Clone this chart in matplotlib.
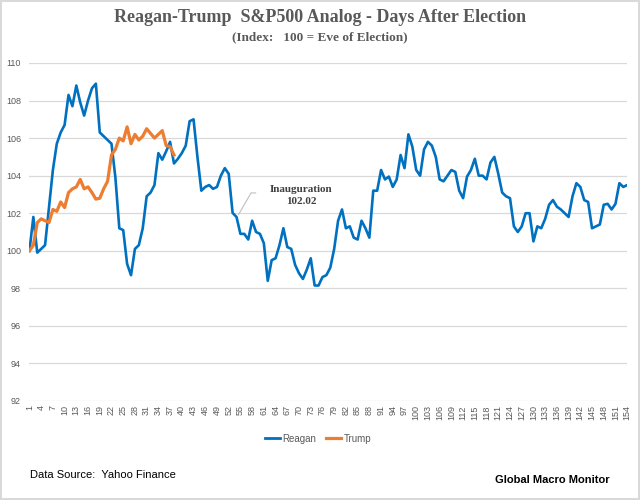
import matplotlib.pyplot as plt
from matplotlib.lines import Line2D

# S&P500 index, 100 = eve of election, by trading day after election
reagan = [
    100.0, 101.8, 99.9, 100.1, 100.3, 102.3, 104.3, 105.7, 106.3, 106.7,
    108.3, 107.7, 108.8, 107.9, 107.2, 108.0, 108.65, 108.9, 106.3, 106.1,
    105.9, 105.7, 103.9, 101.2, 101.1, 99.3, 98.7, 100.1, 100.3, 101.2,
    102.9, 103.1, 103.5, 105.2, 104.85, 105.3, 105.8, 104.65, 104.9, 105.2,
    105.6, 106.9, 107.0, 105.0, 103.2, 103.4, 103.5, 103.3, 103.4, 104.0,
    104.4, 104.1, 102.02, 101.8, 100.9, 100.9, 100.6, 101.6, 101.0, 100.9,
    100.4, 98.4, 99.5, 99.6, 100.3, 101.2, 100.2, 100.1, 99.25, 98.8,
    98.5, 99.0, 99.6, 98.15, 98.15, 98.6, 98.7, 99.1, 100.1, 101.6,
    102.2, 101.2, 101.3, 100.7, 100.6, 101.6, 101.2, 100.7, 103.2, 103.2,
    104.3, 103.8, 103.95, 103.4, 103.8, 105.1, 104.4, 106.2, 105.55, 104.3,
    104.0, 105.4, 105.8, 105.6, 105.0, 103.8, 103.7, 104.0, 104.3, 104.2,
    103.2, 102.8, 103.95, 104.3, 104.9, 104.0, 104.0, 103.8, 104.7, 105.0,
    104.1, 103.1, 102.9, 102.8, 101.3, 101.0, 101.3, 102.0, 102.0, 100.5,
    101.3, 101.2, 101.7, 102.45, 102.7, 102.35, 102.2, 102.0, 101.8, 102.9,
    103.6, 103.4, 102.7, 102.6, 101.2, 101.3, 101.4, 102.45, 102.5, 102.2,
    102.5, 103.6, 103.4, 103.5,
]
trump = [
    100.0, 100.3, 101.5, 101.7, 101.6, 101.5, 102.2, 102.1, 102.6, 102.3,
    103.1, 103.3, 103.4, 103.8, 103.3, 103.4, 103.1, 102.75, 102.8, 103.3,
    103.7, 105.1, 105.4, 106.0, 105.85, 106.6, 105.7, 106.2, 105.9, 106.1,
    106.5, 106.25, 106.0, 106.2, 106.4, 105.6, 105.55, 105.1,
]
days_reagan = list(range(1, len(reagan) + 1))
days_trump = list(range(1, len(trump) + 1))
inaug_day = 53
inaug_value = 102.02

grey = '#595959'
blue = '#0070C0'
orange = '#ED7D31'

fig = plt.figure(figsize=(6.4, 5), dpi=100)
fig.patch.set_edgecolor('#D9D9D9')
fig.patch.set_linewidth(1.5)

ax = fig.add_axes([0.046, 0.198, 0.934, 0.676])
ax.plot(days_reagan, reagan, color=blue, lw=1.9, label='Reagan')
ax.plot(days_trump, trump, color=orange, lw=2.3, label='Trump')

ax.set_xlim(1, len(reagan))
ax.set_ylim(92, 110)
ax.set_yticks(range(92, 111, 2))
ax.set_xticks(range(1, len(reagan) + 1, 3))
ax.set_xticklabels([str(d) for d in range(1, len(reagan) + 1, 3)], rotation=90)
ax.tick_params(axis='both', length=0, labelsize=6.5, labelcolor=grey,
               labelfontfamily='Liberation Sans')
ax.tick_params(axis='y', pad=6)
ax.tick_params(axis='x', pad=3)
ax.grid(axis='y', color='#D9D9D9', lw=0.9)
ax.set_axisbelow(True)
for s in ax.spines.values():
    s.set_visible(False)

# inauguration callout
ax.annotate('Inauguration\n102.02', xy=(inaug_day + 1.5, inaug_value - 0.1),
            xytext=(70.5, 102.95), ha='center', va='center',
            fontsize=8, fontweight='bold', family='Liberation Serif',
            color='#404040', linespacing=1.35,
            arrowprops=dict(arrowstyle='-', color='#BFBFBF', lw=0.8,
                            connectionstyle='angle,angleA=0,angleB=60,rad=0',
                            shrinkA=8, shrinkB=0, relpos=(0, 0.62)))

fig.text(0.5, 0.964, 'Reagan-Trump  S&P500 Analog - Days After Election',
         ha='center', va='center', fontsize=13, fontweight='bold',
         family='Liberation Serif', color=grey)
fig.text(0.5, 0.925, '(Index:   100 = Eve of Election)',
         ha='center', va='center', fontsize=9.5, fontweight='bold',
         family='Liberation Serif', color=grey)

handles = [Line2D([], [], color=blue, lw=2), Line2D([], [], color=orange, lw=2.3)]
fig.legend(handles, ['Reagan', 'Trump'], loc='center', bbox_to_anchor=(0.497, 0.123),
           ncol=2, frameon=False, handlelength=1.5, handletextpad=0.3,
           columnspacing=1.0, labelcolor=grey, prop={'family': 'Liberation Sans', 'size': 7})

fig.text(0.047, 0.05, 'Data Source:  Yahoo Finance', ha='left', va='center',
         fontsize=8, family='Liberation Sans', color='black')
fig.text(0.773, 0.04, 'Global Macro Monitor', ha='left', va='center',
         fontsize=8, fontweight='bold', family='Liberation Sans', color='black')

fig.savefig('out.png', dpi=100)
